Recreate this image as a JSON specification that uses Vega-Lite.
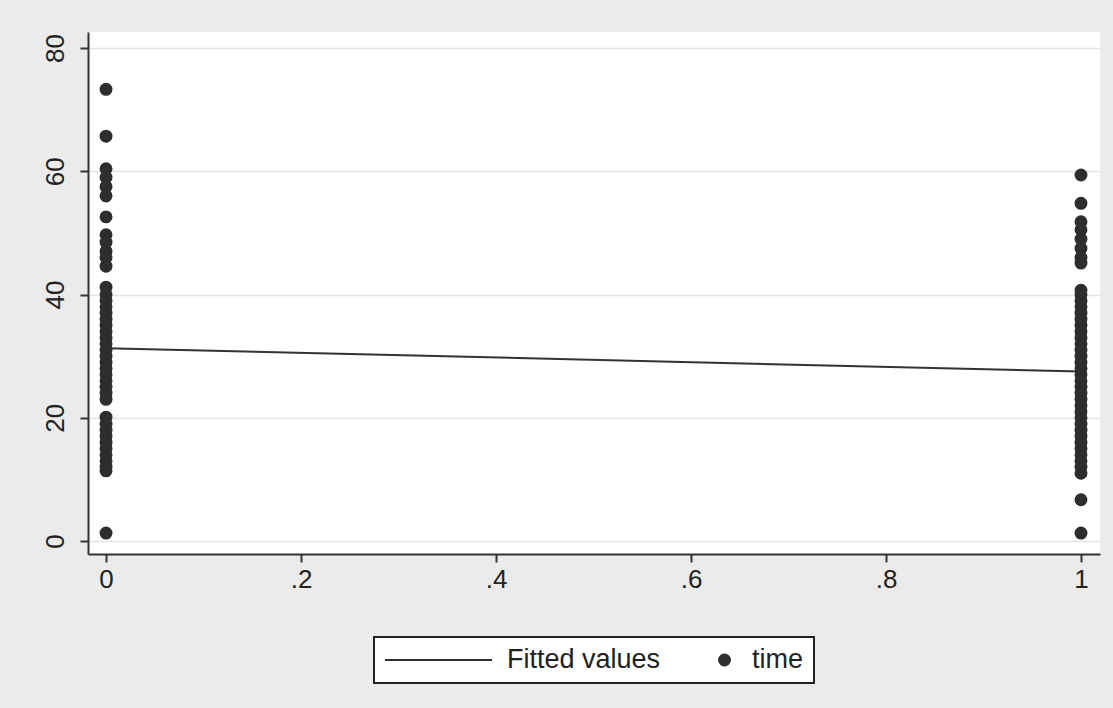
{
  "$schema": "https://vega.github.io/schema/vega-lite/v6.json",
  "width": 1012,
  "height": 522,
  "autosize": {"type": "none"},
  "padding": {"left": 88, "top": 32, "right": 13, "bottom": 154},
  "background": "#ebebeb",
  "datasets": {
    "fit": [
      {"x": 0, "fit": 31.3},
      {"x": 1, "fit": 27.5}
    ],
    "obs": [
      {"x": 0, "time": 73.3, "series": "time"},
      {"x": 0, "time": 65.7, "series": "time"},
      {"x": 0, "time": 60.4, "series": "time"},
      {"x": 0, "time": 59, "series": "time"},
      {"x": 0, "time": 57.5, "series": "time"},
      {"x": 0, "time": 56, "series": "time"},
      {"x": 0, "time": 52.6, "series": "time"},
      {"x": 0, "time": 49.7, "series": "time"},
      {"x": 0, "time": 48.5, "series": "time"},
      {"x": 0, "time": 47, "series": "time"},
      {"x": 0, "time": 46, "series": "time"},
      {"x": 0, "time": 44.6, "series": "time"},
      {"x": 0, "time": 41.2, "series": "time"},
      {"x": 0, "time": 40, "series": "time"},
      {"x": 0, "time": 39, "series": "time"},
      {"x": 0, "time": 38, "series": "time"},
      {"x": 0, "time": 37, "series": "time"},
      {"x": 0, "time": 36, "series": "time"},
      {"x": 0, "time": 35, "series": "time"},
      {"x": 0, "time": 34, "series": "time"},
      {"x": 0, "time": 33, "series": "time"},
      {"x": 0, "time": 32, "series": "time"},
      {"x": 0, "time": 31, "series": "time"},
      {"x": 0, "time": 30, "series": "time"},
      {"x": 0, "time": 29, "series": "time"},
      {"x": 0, "time": 28, "series": "time"},
      {"x": 0, "time": 27, "series": "time"},
      {"x": 0, "time": 26, "series": "time"},
      {"x": 0, "time": 25, "series": "time"},
      {"x": 0, "time": 24, "series": "time"},
      {"x": 0, "time": 23, "series": "time"},
      {"x": 0, "time": 20.1, "series": "time"},
      {"x": 0, "time": 19, "series": "time"},
      {"x": 0, "time": 18, "series": "time"},
      {"x": 0, "time": 17, "series": "time"},
      {"x": 0, "time": 16, "series": "time"},
      {"x": 0, "time": 15, "series": "time"},
      {"x": 0, "time": 14, "series": "time"},
      {"x": 0, "time": 13, "series": "time"},
      {"x": 0, "time": 12, "series": "time"},
      {"x": 0, "time": 11.4, "series": "time"},
      {"x": 0, "time": 1.3, "series": "time"},
      {"x": 1, "time": 59.4, "series": "time"},
      {"x": 1, "time": 54.8, "series": "time"},
      {"x": 1, "time": 51.8, "series": "time"},
      {"x": 1, "time": 50.5, "series": "time"},
      {"x": 1, "time": 49, "series": "time"},
      {"x": 1, "time": 47.5, "series": "time"},
      {"x": 1, "time": 46, "series": "time"},
      {"x": 1, "time": 45.1, "series": "time"},
      {"x": 1, "time": 40.7, "series": "time"},
      {"x": 1, "time": 40, "series": "time"},
      {"x": 1, "time": 39, "series": "time"},
      {"x": 1, "time": 38, "series": "time"},
      {"x": 1, "time": 37, "series": "time"},
      {"x": 1, "time": 36, "series": "time"},
      {"x": 1, "time": 35, "series": "time"},
      {"x": 1, "time": 34, "series": "time"},
      {"x": 1, "time": 33, "series": "time"},
      {"x": 1, "time": 32, "series": "time"},
      {"x": 1, "time": 31, "series": "time"},
      {"x": 1, "time": 30, "series": "time"},
      {"x": 1, "time": 29, "series": "time"},
      {"x": 1, "time": 28, "series": "time"},
      {"x": 1, "time": 27, "series": "time"},
      {"x": 1, "time": 26, "series": "time"},
      {"x": 1, "time": 25, "series": "time"},
      {"x": 1, "time": 24, "series": "time"},
      {"x": 1, "time": 23, "series": "time"},
      {"x": 1, "time": 22, "series": "time"},
      {"x": 1, "time": 21, "series": "time"},
      {"x": 1, "time": 20, "series": "time"},
      {"x": 1, "time": 19, "series": "time"},
      {"x": 1, "time": 18, "series": "time"},
      {"x": 1, "time": 17, "series": "time"},
      {"x": 1, "time": 16, "series": "time"},
      {"x": 1, "time": 15, "series": "time"},
      {"x": 1, "time": 14, "series": "time"},
      {"x": 1, "time": 13, "series": "time"},
      {"x": 1, "time": 12, "series": "time"},
      {"x": 1, "time": 11, "series": "time"},
      {"x": 1, "time": 6.7, "series": "time"},
      {"x": 1, "time": 1.3, "series": "time"}
    ]
  },
  "layer": [
    {
      "data": {"name": "fit"},
      "mark": {"type": "line", "strokeWidth": 2, "color": "#333333"},
      "encoding": {
        "x": {
          "field": "x", "type": "quantitative",
          "scale": {"domain": [-0.0185, 1.0195], "nice": false, "zero": false},
          "axis": {
            "title": null,
            "values": [0, 0.2, 0.4, 0.6, 0.8, 1],
            "labelExpr": "datum.value == 0 ? '0' : datum.value == 1 ? '1' : replace(format(datum.value, '.1f'), '0.', '.')",
            "grid": false,
            "labelPadding": 4
          }
        },
        "y": {
          "field": "fit", "type": "quantitative",
          "scale": {"domain": [-2.1, 82.6], "nice": false, "zero": false},
          "axis": {
            "title": null,
            "values": [0, 20, 40, 60, 80],
            "labelAngle": 270,
            "labelAlign": "center",
            "labelBaseline": "alphabetic",
            "labelPadding": 17,
            "grid": true,
            "gridColor": "#e4e4e4",
            "gridWidth": 1.5
          }
        }
      }
    },
    {
      "data": {"name": "obs"},
      "mark": {"type": "point", "filled": true, "opacity": 1, "stroke": "#2e2e2e", "strokeWidth": 2},
      "encoding": {
        "x": {"field": "x", "type": "quantitative"},
        "y": {"field": "time", "type": "quantitative"},
        "color": {
          "field": "series", "type": "nominal",
          "scale": {"domain": ["Fitted values", "time"], "range": ["#333333", "#2e2e2e"]},
          "legend": {
            "title": null,
            "orient": "none",
            "direction": "horizontal",
            "legendX": 286,
            "legendY": 605,
            "padding": 10,
            "columnPadding": 50,
            "clipHeight": 26,
            "labelOffset": 14,
            "symbolStrokeColor": "#333333",
            "symbolStrokeWidth": 2,
            "symbolOpacity": 1,
            "strokeColor": "#222222",
            "fillColor": "#ffffff",
            "labelFont": "Liberation Sans",
            "labelFontSize": 27,
            "labelColor": "#222222"
          }
        },
        "shape": {
          "field": "series", "type": "nominal",
          "scale": {"domain": ["Fitted values", "time"], "range": ["stroke", "circle"]}
        },
        "size": {
          "field": "series", "type": "nominal",
          "scale": {"type": "point", "padding": 0, "domain": ["Fitted values", "time"], "range": [11449, 120]}
        }
      }
    }
  ],
  "config": {
    "view": {"stroke": null, "fill": "#ffffff"},
    "legend": {"strokeWidth": 2},
    "axis": {
      "domainColor": "#333333",
      "domainWidth": 2,
      "tickColor": "#333333",
      "tickWidth": 2,
      "tickSize": 8,
      "labelFont": "Liberation Sans",
      "labelFontSize": 26,
      "labelColor": "#222222"
    }
  }
}
